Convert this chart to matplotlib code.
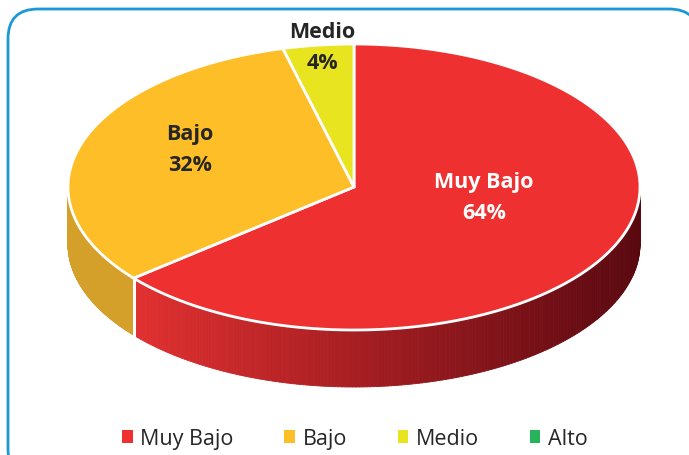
import numpy as np
import matplotlib
matplotlib.use('Agg')
import matplotlib.pyplot as plt
from matplotlib.patches import Polygon, FancyBboxPatch, Patch
from matplotlib.collections import PolyCollection
from matplotlib.colors import to_rgb

# ---- data ----
categories = ['Muy Bajo', 'Bajo', 'Medio', 'Alto']
values = [64, 32, 4, 0]
pct_labels = ['64%', '32%', '4%', '0%']

# ---- style ----
top_colors = ['#EE3030', '#FDBE27', '#E9E420', '#27B35A']
side_flat = [None, '#D4A02A', '#C9C41C', '#1E8E47']
grad_left, grad_right = '#E23030', '#5A0810'
label_colors = ['white', '#262626', '#262626', '#262626']
label_pos = [(484, 198), (190, 150), (322, 48), (0, 0)]

CX, CY, RX, RY, DEPTH = 354, 188, 286, 143, 57
FONT = ['Open Sans', 'DejaVu Sans']

fig = plt.figure(figsize=(6.89, 4.56), dpi=100)
ax = fig.add_axes([0, 0, 1, 1])
ax.set_xlim(0, 689)
ax.set_ylim(456, 0)
ax.axis('off')

# frame
frame = FancyBboxPatch((8, 10), 691, 470, boxstyle='round,pad=0,rounding_size=30',
                       fc='white', ec='#1B98D5', lw=2, zorder=0)
ax.add_patch(frame)


def pt(tdeg, dy=0.0):
    t = np.radians(tdeg)
    return CX + RX * np.cos(t), CY - RY * np.sin(t) + dy


total = float(sum(values))
start = 90.0
spans = []
for v in values:
    s = 360.0 * v / total
    spans.append((start - s, start))
    start -= s

c0, c1 = np.array(to_rgb(grad_left)), np.array(to_rgb(grad_right))
xl, xr = pt(-140.4)[0], CX + RX

# side faces
for i, (a, b) in enumerate(spans):
    if b - a <= 0:
        continue
    for k in range(-2, 2):
        lo, hi = max(a, k * 360 + 180), min(b, k * 360 + 360)
        if hi <= lo:
            continue
        ts = np.linspace(lo, hi, 200)
        polys, cols = [], []
        for t0, t1 in zip(ts[:-1], ts[1:]):
            p0, p1 = pt(t0), pt(t1)
            q0, q1 = pt(t0, DEPTH), pt(t1, DEPTH)
            polys.append([p0, p1, q1, q0])
            if side_flat[i] is None:
                f = np.clip(((p0[0] + p1[0]) / 2 - xl) / (xr - xl), 0, 1)
                cols.append(tuple(c0 + (c1 - c0) * f))
            else:
                cols.append(side_flat[i])
        pc = PolyCollection(polys, facecolors=cols, edgecolors=cols, linewidths=0.6, zorder=1)
        ax.add_collection(pc)
        # white separators at slice boundaries on the visible side
        for tb in (lo, hi):
            if np.sin(np.radians(tb)) < -0.01:
                x0, y0 = pt(tb)
                ax.plot([x0, x0], [y0, y0 + DEPTH], color='white', lw=2, zorder=1.5)

# top faces
for i, (a, b) in enumerate(spans):
    if b - a <= 0:
        continue
    ts = np.linspace(b, a, 300)
    pts = [(CX, CY)] + [pt(t) for t in ts]
    ax.add_patch(Polygon(pts, closed=True, fc=top_colors[i], ec='white', lw=2,
                         joinstyle='miter', zorder=2))

# labels
for i, v in enumerate(values):
    if v <= 0:
        continue
    x, y = label_pos[i]
    ax.text(x, y, f'{categories[i]}\n{pct_labels[i]}', ha='center', va='center',
            color=label_colors[i], fontsize=15.5, fontweight='bold', family=FONT,
            linespacing=1.6, zorder=3)

# legend
handles = [Patch(fc=c, ec='none') for c in top_colors]
leg = ax.legend(handles, categories, ncol=4, loc='center', bbox_to_anchor=(0.515, 0.036),
                frameon=False, handlelength=0.5, handleheight=0.5, handletextpad=0.35,
                columnspacing=2.35, prop={'family': FONT, 'size': 15.5})
for t in leg.get_texts():
    t.set_color('#262626')

fig.savefig('out.png', dpi=100)
